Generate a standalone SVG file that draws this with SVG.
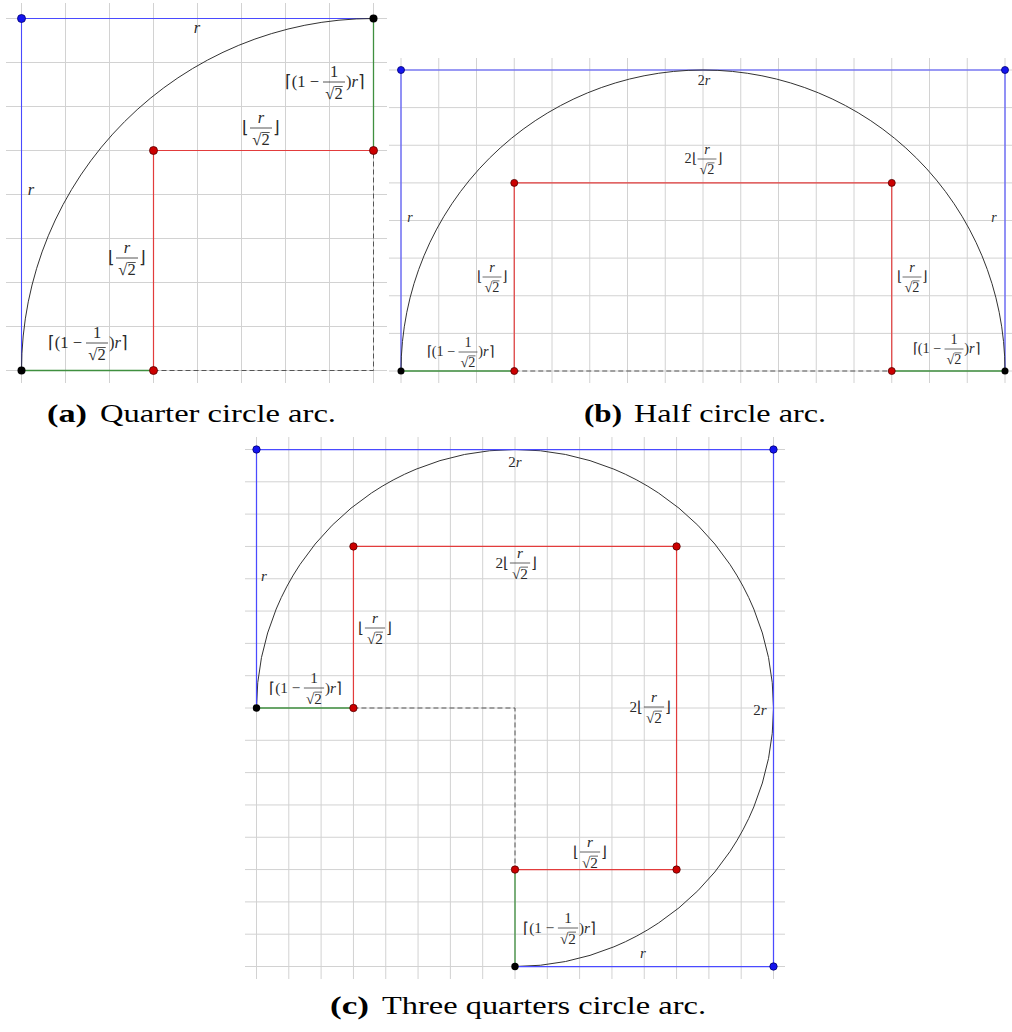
<svg xmlns="http://www.w3.org/2000/svg" width="1012" height="1032" viewBox="0 0 1012 1032">
<style>
.grid{stroke:#d2d2d2;stroke-width:1;fill:none}
.blue{stroke:#4a4aff;stroke-width:1.1;fill:none}
.red{stroke:#e23c3c;stroke-width:1.2;fill:none}
.green{stroke:#3f8f3f;stroke-width:1.3;fill:none}
.dash{stroke:#555;stroke-width:1;stroke-dasharray:5 3;fill:none}
.arc{stroke:#333;stroke-width:1;fill:none}
.pb{fill:#1414ee;stroke:#000070;stroke-width:.8}
.pr{fill:#cc0000;stroke:#550000;stroke-width:.8}
.pk{fill:#000}
.m{font-family:"Liberation Serif",serif;font-size:16.5px;fill:#2a2a2a}
.i{font-style:italic}
.fb{stroke:#2a2a2a;stroke-width:.8}
.vin{stroke:#2a2a2a;stroke-width:.8}
.cap{font-family:"Liberation Serif",serif;font-size:26px;fill:#000}
.capb{font-weight:bold}
</style>

<!-- ============ Panel (a) ============ -->
<g id="panel-a">
  <path class="grid" d="M21.5 3V383M65.5 3V383M109.5 3V383M153.5 3V383M197.5 3V383M241.5 3V383M285.5 3V383M329.5 3V383M373.5 3V383"/>
  <path class="grid" d="M6 18.5H387M6 62.5H387M6 106.5H387M6 150.5H387M6 194.5H387M6 238.5H387M6 282.5H387M6 326.5H387M6 370.5H387"/>
  <g id="a-connectors">
    <path class="blue" d="M21.5 370.5V18.5H373.5"/>
    <path class="green" d="M373.5 18.5V150.5M21.5 370.5H153.5"/>
    <path class="red" d="M153.5 370.5V150.5H373.5"/>
    <path class="dash" d="M153.5 370.5H373.5V150.5"/>
    <path class="arc" d="M21.5 370.5A352 352 0 0 1 373.5 18.5"/>
  </g>
  <g id="a-points">
    <circle id="a-p1" class="pb" cx="21.5" cy="18.5" r="4"/>
    <circle id="a-p2" class="pk" cx="373.5" cy="18.5" r="4"/>
    <circle id="a-p3" class="pk" cx="21.5" cy="370.5" r="4"/>
    <circle id="a-p4" class="pr" cx="153.5" cy="150.5" r="4"/>
    <circle id="a-p5" class="pr" cx="373.5" cy="150.5" r="4"/>
    <circle id="a-p6" class="pr" cx="153.5" cy="370.5" r="4"/>
  </g>
  <g id="a-labels">
    <text class="m i" x="197" y="33" text-anchor="middle">r</text>
    <text class="m i" x="31" y="195" text-anchor="middle">r</text>
    <g transform="translate(334,82)">
      <text class="m" x="-15" y="5" text-anchor="end">⌈(1 −</text>
      <text class="m" x="0" y="-5.5" text-anchor="middle">1</text>
      <line class="fb" x1="-11" y1="0" x2="11" y2="0"/>
      <text class="m" x="0" y="17" text-anchor="middle">√2</text>
      <line class="vin" x1="0.4" y1="4.5" x2="8.7" y2="4.5"/>
      <text class="m" x="12" y="5">)<tspan class="i">r</tspan>⌉</text>
    </g>
    <g transform="translate(261,128)">
      <text class="m" x="-12" y="5" text-anchor="end">⌊</text>
      <text class="m i" x="0" y="-5.5" text-anchor="middle">r</text>
      <line class="fb" x1="-11" y1="0" x2="11" y2="0"/>
      <text class="m" x="0" y="17" text-anchor="middle">√2</text>
      <line class="vin" x1="0.4" y1="4.5" x2="8.7" y2="4.5"/>
      <text class="m" x="12" y="5">⌋</text>
    </g>
    <g transform="translate(127,258)">
      <text class="m" x="-12" y="5" text-anchor="end">⌊</text>
      <text class="m i" x="0" y="-5.5" text-anchor="middle">r</text>
      <line class="fb" x1="-11" y1="0" x2="11" y2="0"/>
      <text class="m" x="0" y="17" text-anchor="middle">√2</text>
      <line class="vin" x1="0.4" y1="4.5" x2="8.7" y2="4.5"/>
      <text class="m" x="12" y="5">⌋</text>
    </g>
    <g transform="translate(97,343)">
      <text class="m" x="-15" y="5" text-anchor="end">⌈(1 −</text>
      <text class="m" x="0" y="-5.5" text-anchor="middle">1</text>
      <line class="fb" x1="-11" y1="0" x2="11" y2="0"/>
      <text class="m" x="0" y="17" text-anchor="middle">√2</text>
      <line class="vin" x1="0.4" y1="4.5" x2="8.7" y2="4.5"/>
      <text class="m" x="12" y="5">)<tspan class="i">r</tspan>⌉</text>
    </g>
  </g>
</g>

<!-- ============ Panel (b) ============ -->
<g id="panel-b">
  <path class="grid" d="M401 58V383M438.75 58V383M476.5 58V383M514.25 58V383M552 58V383M589.75 58V383M627.5 58V383M665.25 58V383M703 58V383M740.75 58V383M778.5 58V383M816.25 58V383M854 58V383M891.75 58V383M929.5 58V383M967.25 58V383M1005 58V383"/>
  <path class="grid" d="M389 70H1012M389 107.6H1012M389 145.25H1012M389 182.9H1012M389 220.5H1012M389 258.1H1012M389 295.75H1012M389 333.4H1012M389 371H1012"/>
  <g id="b-connectors">
    <path class="blue" d="M401 371V70H1005V371"/>
    <path class="green" d="M401 371H514.25M891.75 371H1005"/>
    <path class="red" d="M514.25 371V182.9H891.75V371"/>
    <path class="dash" d="M514.25 371H891.75"/>
    <path class="arc" d="M401 371A302 301 0 0 1 1005 371"/>
  </g>
  <g id="b-points">
    <circle id="b-p1" class="pb" cx="401" cy="70" r="3.5"/>
    <circle id="b-p2" class="pb" cx="1005" cy="70" r="3.5"/>
    <circle id="b-p3" class="pk" cx="401" cy="371" r="3.5"/>
    <circle id="b-p4" class="pk" cx="1005" cy="371" r="3.5"/>
    <circle id="b-p5" class="pr" cx="514.25" cy="182.9" r="3.5"/>
    <circle id="b-p6" class="pr" cx="891.75" cy="182.9" r="3.5"/>
    <circle id="b-p7" class="pr" cx="514.25" cy="371" r="3.5"/>
    <circle id="b-p8" class="pr" cx="891.75" cy="371" r="3.5"/>
  </g>
  <g id="b-labels">
    <text class="m" x="704" y="85" text-anchor="middle" style="font-size:14px">2<tspan class="i">r</tspan></text>
    <text class="m i" x="410" y="222" text-anchor="middle" style="font-size:14px">r</text>
    <text class="m i" x="994" y="222" text-anchor="middle" style="font-size:14px">r</text>
    <g transform="translate(707,159) scale(0.86)">
      <text class="m" x="-12" y="5" text-anchor="end">2⌊</text>
      <text class="m i" x="0" y="-5.5" text-anchor="middle">r</text>
      <line class="fb" x1="-11" y1="0" x2="11" y2="0"/>
      <text class="m" x="0" y="17" text-anchor="middle">√2</text>
      <line class="vin" x1="0.4" y1="4.5" x2="8.7" y2="4.5"/>
      <text class="m" x="12" y="5">⌋</text>
    </g>
    <g transform="translate(492,277) scale(0.86)">
      <text class="m" x="-12" y="5" text-anchor="end">⌊</text>
      <text class="m i" x="0" y="-5.5" text-anchor="middle">r</text>
      <line class="fb" x1="-11" y1="0" x2="11" y2="0"/>
      <text class="m" x="0" y="17" text-anchor="middle">√2</text>
      <line class="vin" x1="0.4" y1="4.5" x2="8.7" y2="4.5"/>
      <text class="m" x="12" y="5">⌋</text>
    </g>
    <g transform="translate(912,277) scale(0.86)">
      <text class="m" x="-12" y="5" text-anchor="end">⌊</text>
      <text class="m i" x="0" y="-5.5" text-anchor="middle">r</text>
      <line class="fb" x1="-11" y1="0" x2="11" y2="0"/>
      <text class="m" x="0" y="17" text-anchor="middle">√2</text>
      <line class="vin" x1="0.4" y1="4.5" x2="8.7" y2="4.5"/>
      <text class="m" x="12" y="5">⌋</text>
    </g>
    <g transform="translate(468,352) scale(0.86)">
      <text class="m" x="-15" y="5" text-anchor="end">⌈(1 −</text>
      <text class="m" x="0" y="-5.5" text-anchor="middle">1</text>
      <line class="fb" x1="-11" y1="0" x2="11" y2="0"/>
      <text class="m" x="0" y="17" text-anchor="middle">√2</text>
      <line class="vin" x1="0.4" y1="4.5" x2="8.7" y2="4.5"/>
      <text class="m" x="12" y="5">)<tspan class="i">r</tspan>⌉</text>
    </g>
    <g transform="translate(954,349) scale(0.86)">
      <text class="m" x="-15" y="5" text-anchor="end">⌈(1 −</text>
      <text class="m" x="0" y="-5.5" text-anchor="middle">1</text>
      <line class="fb" x1="-11" y1="0" x2="11" y2="0"/>
      <text class="m" x="0" y="17" text-anchor="middle">√2</text>
      <line class="vin" x1="0.4" y1="4.5" x2="8.7" y2="4.5"/>
      <text class="m" x="12" y="5">)<tspan class="i">r</tspan>⌉</text>
    </g>
  </g>
</g>

<!-- ============ Panel (c) ============ -->
<g id="panel-c">
  <path class="grid" d="M256.5 437V979M288.8 437V979M321.1 437V979M353.44 437V979M385.75 437V979M418.06 437V979M450.4 437V979M482.7 437V979M515 437V979M547.3 437V979M579.6 437V979M611.94 437V979M644.25 437V979M676.56 437V979M708.9 437V979M741.2 437V979M773.5 437V979"/>
  <path class="grid" d="M245 449.5H785M245 481.8H785M245 514.1H785M245 546.44H785M245 578.75H785M245 611.06H785M245 643.4H785M245 675.7H785M245 708H785M245 740.3H785M245 772.6H785M245 804.94H785M245 837.25H785M245 869.56H785M245 901.9H785M245 934.2H785M245 966.5H785"/>
  <g id="c-connectors">
    <path class="green" d="M256.5 708H353.44M515 869.56V966.5"/>
    <path class="red" d="M353.44 708V546.44H676.56V869.56H515"/>
    <path class="dash" d="M353.44 708H515V869.56"/>
    <path class="arc" d="M256.5 708A258.5 258.5 0 1 1 515 966.5"/>
    <path class="blue" style="stroke-width:1.25" d="M256.5 708V449.5H773.5V966.5H515"/>
  </g>
  <g id="c-points">
    <circle id="c-p1" class="pb" cx="256.5" cy="449.5" r="3.7"/>
    <circle id="c-p2" class="pb" cx="773.5" cy="449.5" r="3.7"/>
    <circle id="c-p3" class="pb" cx="773.5" cy="966.5" r="3.7"/>
    <circle id="c-p4" class="pk" cx="256.5" cy="708" r="3.7"/>
    <circle id="c-p5" class="pk" cx="515" cy="966.5" r="3.7"/>
    <circle id="c-p6" class="pr" cx="353.44" cy="546.44" r="3.7"/>
    <circle id="c-p7" class="pr" cx="676.56" cy="546.44" r="3.7"/>
    <circle id="c-p8" class="pr" cx="353.44" cy="708" r="3.7"/>
    <circle id="c-p9" class="pr" cx="515" cy="869.56" r="3.7"/>
    <circle id="c-p10" class="pr" cx="676.56" cy="869.56" r="3.7"/>
  </g>
  <g id="c-labels">
    <text class="m" x="515" y="467" text-anchor="middle" style="font-size:15px">2<tspan class="i">r</tspan></text>
    <text class="m i" x="264" y="581" text-anchor="middle" style="font-size:15px">r</text>
    <text class="m" x="760" y="715" text-anchor="middle" style="font-size:15px">2<tspan class="i">r</tspan></text>
    <text class="m i" x="643" y="958" text-anchor="middle" style="font-size:15px">r</text>
    <g transform="translate(520,563) scale(0.92)">
      <text class="m" x="-12" y="5" text-anchor="end">2⌊</text>
      <text class="m i" x="0" y="-5.5" text-anchor="middle">r</text>
      <line class="fb" x1="-11" y1="0" x2="11" y2="0"/>
      <text class="m" x="0" y="17" text-anchor="middle">√2</text>
      <line class="vin" x1="0.4" y1="4.5" x2="8.7" y2="4.5"/>
      <text class="m" x="12" y="5">⌋</text>
    </g>
    <g transform="translate(375,628) scale(0.92)">
      <text class="m" x="-12" y="5" text-anchor="end">⌊</text>
      <text class="m i" x="0" y="-5.5" text-anchor="middle">r</text>
      <line class="fb" x1="-11" y1="0" x2="11" y2="0"/>
      <text class="m" x="0" y="17" text-anchor="middle">√2</text>
      <line class="vin" x1="0.4" y1="4.5" x2="8.7" y2="4.5"/>
      <text class="m" x="12" y="5">⌋</text>
    </g>
    <g transform="translate(314,688) scale(0.92)">
      <text class="m" x="-15" y="5" text-anchor="end">⌈(1 −</text>
      <text class="m" x="0" y="-5.5" text-anchor="middle">1</text>
      <line class="fb" x1="-11" y1="0" x2="11" y2="0"/>
      <text class="m" x="0" y="17" text-anchor="middle">√2</text>
      <line class="vin" x1="0.4" y1="4.5" x2="8.7" y2="4.5"/>
      <text class="m" x="12" y="5">)<tspan class="i">r</tspan>⌉</text>
    </g>
    <g transform="translate(654,707) scale(0.92)">
      <text class="m" x="-12" y="5" text-anchor="end">2⌊</text>
      <text class="m i" x="0" y="-5.5" text-anchor="middle">r</text>
      <line class="fb" x1="-11" y1="0" x2="11" y2="0"/>
      <text class="m" x="0" y="17" text-anchor="middle">√2</text>
      <line class="vin" x1="0.4" y1="4.5" x2="8.7" y2="4.5"/>
      <text class="m" x="12" y="5">⌋</text>
    </g>
    <g transform="translate(590,852) scale(0.92)">
      <text class="m" x="-12" y="5" text-anchor="end">⌊</text>
      <text class="m i" x="0" y="-5.5" text-anchor="middle">r</text>
      <line class="fb" x1="-11" y1="0" x2="11" y2="0"/>
      <text class="m" x="0" y="17" text-anchor="middle">√2</text>
      <line class="vin" x1="0.4" y1="4.5" x2="8.7" y2="4.5"/>
      <text class="m" x="12" y="5">⌋</text>
    </g>
    <g transform="translate(568,928) scale(0.92)">
      <text class="m" x="-15" y="5" text-anchor="end">⌈(1 −</text>
      <text class="m" x="0" y="-5.5" text-anchor="middle">1</text>
      <line class="fb" x1="-11" y1="0" x2="11" y2="0"/>
      <text class="m" x="0" y="17" text-anchor="middle">√2</text>
      <line class="vin" x1="0.4" y1="4.5" x2="8.7" y2="4.5"/>
      <text class="m" x="12" y="5">)<tspan class="i">r</tspan>⌉</text>
    </g>
  </g>
</g>

<!-- ============ Captions ============ -->
<g id="captions">
  <text class="cap capb" x="47" y="422" textLength="40" lengthAdjust="spacingAndGlyphs">(a)</text>
  <text class="cap" x="100" y="422" textLength="236" lengthAdjust="spacingAndGlyphs">Quarter circle arc.</text>
  <text class="cap capb" x="584" y="422" textLength="38" lengthAdjust="spacingAndGlyphs">(b)</text>
  <text class="cap" x="634" y="422" textLength="192" lengthAdjust="spacingAndGlyphs">Half circle arc.</text>
  <text class="cap capb" x="330" y="1014" textLength="39" lengthAdjust="spacingAndGlyphs">(c)</text>
  <text class="cap" x="382" y="1014" textLength="324" lengthAdjust="spacingAndGlyphs">Three quarters circle arc.</text>
</g>
</svg>
